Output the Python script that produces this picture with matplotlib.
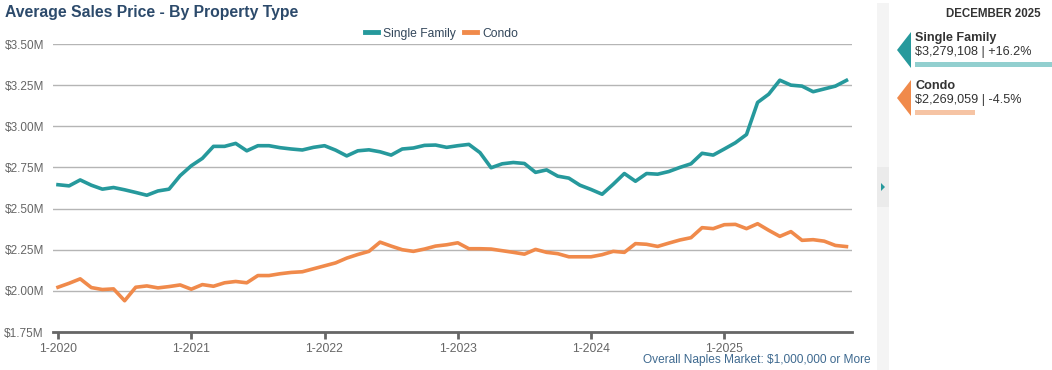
import matplotlib.pyplot as plt
from matplotlib.patches import Polygon, Rectangle
from matplotlib.ticker import FuncFormatter

plt.rcParams['font.family'] = ['Liberation Sans', 'DejaVu Sans']

# monthly values, Jan 2020 .. Dec 2025, in $M
singleFamily = [
    2.645, 2.638, 2.674, 2.642, 2.618, 2.628, 2.614, 2.598, 2.581, 2.607, 2.618, 2.700,
    2.760, 2.805, 2.878, 2.878, 2.896, 2.851, 2.882, 2.882, 2.870, 2.862, 2.856, 2.872,
    2.882, 2.855, 2.820, 2.851, 2.857, 2.845, 2.825, 2.862, 2.868, 2.884, 2.886, 2.872,
    2.882, 2.890, 2.840, 2.748, 2.772, 2.780, 2.774, 2.720, 2.735, 2.697, 2.685, 2.642,
    2.616, 2.587, 2.648, 2.713, 2.666, 2.713, 2.709, 2.725, 2.750, 2.772, 2.836, 2.825,
    2.862, 2.900, 2.950, 3.145, 3.195, 3.280, 3.250, 3.244, 3.210, 3.227, 3.244, 3.279,
]
condo = [
    2.022, 2.046, 2.073, 2.020, 2.008, 2.012, 1.940, 2.022, 2.030, 2.018, 2.026, 2.036,
    2.010, 2.038, 2.028, 2.049, 2.057, 2.049, 2.093, 2.093, 2.104, 2.112, 2.116, 2.134,
    2.152, 2.170, 2.199, 2.221, 2.240, 2.296, 2.272, 2.250, 2.240, 2.254, 2.272, 2.280,
    2.292, 2.256, 2.256, 2.254, 2.244, 2.234, 2.223, 2.252, 2.234, 2.226, 2.207, 2.207,
    2.207, 2.220, 2.240, 2.234, 2.287, 2.283, 2.270, 2.290, 2.309, 2.323, 2.384, 2.378,
    2.402, 2.404, 2.378, 2.408, 2.368, 2.331, 2.360, 2.307, 2.311, 2.302, 2.276, 2.269,
]
yearTicks = [0, 12, 24, 36, 48, 60]
yearLabels = ['1-2020', '1-2021', '1-2022', '1-2023', '1-2024', '1-2025']
yTicks = [1.75, 2.00, 2.25, 2.50, 2.75, 3.00, 3.25, 3.50]

seriesNames = ['Single Family', 'Condo']
latestValues = ['$3,279,108 | +16.2%', '$2,269,059 | -4.5%']

TEAL = '#26999c'
ORANGE = '#f08a4b'
TEAL_LIGHT = '#92cfcf'
ORANGE_LIGHT = '#f6c4a4'
NAVY = '#2c4a6b'

W, H = 1052, 370
fig = plt.figure(figsize=(W / 100, H / 100), dpi=100)


def fx(px):
    return px / W


def fy(py):
    return 1 - py / H


ax = fig.add_axes([fx(53), fy(332), fx(852) - fx(53), fy(44) - fy(332)])
months = list(range(len(singleFamily)))
ax.plot(months, singleFamily, color=TEAL, lw=2.6, label=seriesNames[0], solid_joinstyle='round')
ax.plot(months, condo, color=ORANGE, lw=2.6, label=seriesNames[1], solid_joinstyle='round')

ax.set_xlim(-0.45, 71.5)
ax.set_ylim(1.75, 3.5)
ax.set_yticks(yTicks)
ax.yaxis.set_major_formatter(FuncFormatter(lambda v, p: '${:.2f}M'.format(v)))
ax.set_xticks(yearTicks)
ax.set_xticklabels(yearLabels)
ax.grid(axis='y', color='#b5b5b5', lw=1)
ax.set_axisbelow(True)
for side in ['top', 'right', 'left']:
    ax.spines[side].set_visible(False)
ax.spines['bottom'].set_color('#666666')
ax.spines['bottom'].set_linewidth(2)
ax.tick_params(axis='y', length=0, pad=6.5, labelsize=8.5, labelcolor='#666666')
ax.tick_params(axis='x', length=5, width=2, color='#666666', pad=3, labelsize=8.8, labelcolor='#666666')

leg = ax.legend(loc='lower center', bbox_to_anchor=(0.486, 0.99), ncol=2, frameon=False,
                fontsize=8.7, handlelength=1.1, handletextpad=0.4, columnspacing=0.7,
                borderaxespad=0.2)
for t in leg.get_texts():
    t.set_color('#33475b')
for l in leg.get_lines():
    l.set_linewidth(3.5)

fig.text(fx(5), fy(12), 'Average Sales Price - By Property Type', fontsize=11.3,
         fontweight='bold', color=NAVY, va='center', ha='left')
fig.text(fx(871), fy(360), 'Overall Naples Market: $1,000,000 or More', fontsize=8.6,
         color='#3f6a90', va='center', ha='right')

# side strip
fig.patches.append(Rectangle((fx(877), 0), fx(12), fy(3), transform=fig.transFigure,
                             facecolor='#f4f4f4', edgecolor='none'))
fig.patches.append(Rectangle((fx(877), fy(207)), fx(12), fy(167) - fy(207), transform=fig.transFigure,
                             facecolor='#ebebeb', edgecolor='none'))
fig.patches.append(Polygon([(fx(881), fy(183)), (fx(881), fy(191)), (fx(885), fy(187))],
                           closed=True, transform=fig.transFigure, facecolor=TEAL, edgecolor='none'))

# summary panel
fig.text(fx(993), fy(14), 'DECEMBER 2025', fontsize=8.3, fontweight='bold', color='#333333',
         ha='center', va='center')
colors = [TEAL, ORANGE]
lightColors = [TEAL_LIGHT, ORANGE_LIGHT]
tops = [32, 80]
barEnds = [1052, 975]
for i in range(2):
    top = tops[i]
    fig.patches.append(Polygon([(fx(911), fy(top)), (fx(897), fy(top + 18)), (fx(911), fy(top + 36))],
                               closed=True, transform=fig.transFigure, facecolor=colors[i], edgecolor='none'))
    fig.text(fx(915), fy(top + 6), seriesNames[i], fontsize=9.1, fontweight='bold', color='#333333',
             ha='left', va='center')
    fig.text(fx(915), fy(top + 20), latestValues[i], fontsize=9.1, color='#333333',
             ha='left', va='center')
    fig.patches.append(Rectangle((fx(915), fy(top + 35)), fx(barEnds[i] - 915), fy(top + 30) - fy(top + 35),
                                 transform=fig.transFigure, facecolor=lightColors[i], edgecolor='none'))

fig.savefig('out.png', dpi=100)
